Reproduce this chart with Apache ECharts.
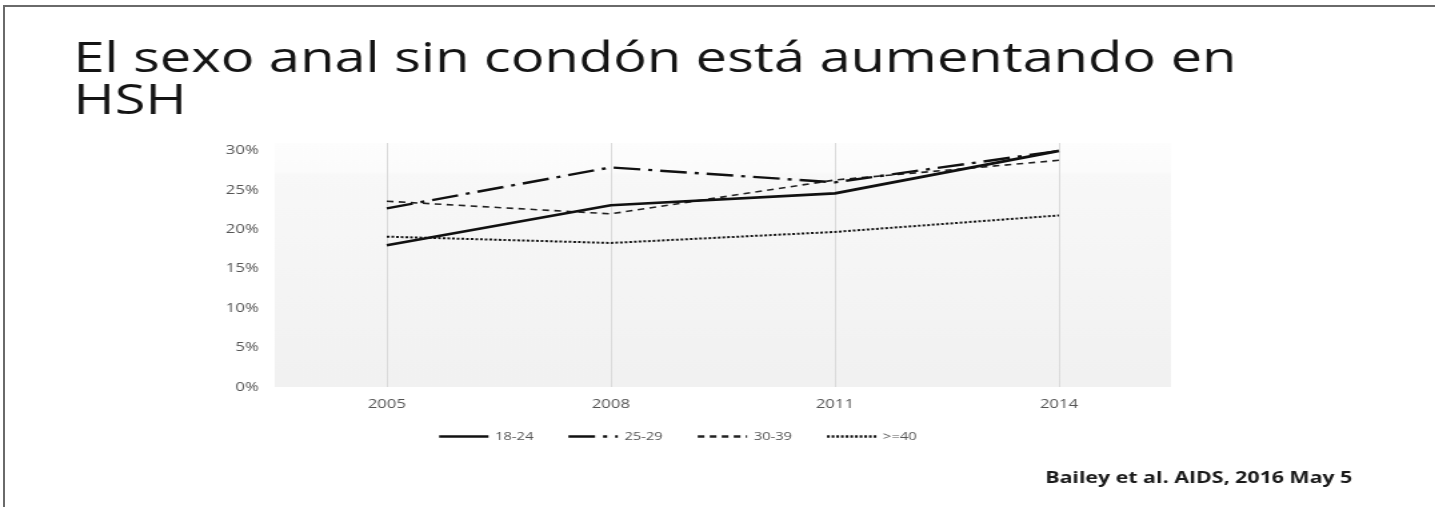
<!DOCTYPE html>
<html>
<head>
<meta charset="utf-8">
<script src="https://cdn.jsdelivr.net/npm/echarts@6/dist/echarts.min.js"></script>
<style>
  html, body { margin: 0; padding: 0; background: #ffffff; overflow: hidden; }
  #frame {
    position: absolute; left: 3px; top: 5px; width: 1432px; height: 502px;
    border-top: 2px solid #6a6a6a; border-left: 2px solid #6a6a6a;
    box-sizing: border-box; pointer-events: none; z-index: 2;
  }
  /* slide is laid out at 4:3-ish width and stretched to the wide frame */
  #chart {
    position: absolute; left: 0; top: 0; width: 1076px; height: 507px;
    transform: scaleX(1.3337); transform-origin: 0 0;
  }
</style>
</head>
<body>
<div id="chart"></div>
<div id="frame"></div>
<script>
// Survey years (x axis)
const years = ['2005', '2008', '2011', '2014'];

// Share reporting condomless anal sex, % by age group
const age18to24 = [18.0, 23.1, 24.6, 30.0];
const age25to29 = [22.7, 27.9, 26.0, 30.0];
const age30to39 = [23.6, 22.0, 26.3, 28.8];
const age40plus = [19.1, 18.3, 19.7, 21.8];

const seriesNames = ['18-24', '25-29', '30-39', '>=40'];

const titleText = 'El sexo anal sin condón está aumentando en\nHSH';
const sourceText = 'Bailey et al. AIDS, 2016 May 5';

const labelColor = '#555555';
const labelFont = 'Open Sans';

const chart = echarts.init(document.getElementById('chart'), null, { width: 1076, height: 507 });

const option = {
  backgroundColor: '#ffffff',
  animation: false,
  title: [
    {
      text: titleText,
      left: 50,
      top: 34,
      textStyle: {
        fontFamily: 'Open Sans',
        fontWeight: 'normal',
        fontSize: 42,
        lineHeight: 42,
        color: '#141414'
      }
    },
    {
      text: sourceText,
      right: 57,
      top: 465,
      textStyle: {
        fontFamily: 'Open Sans',
        fontWeight: 'bold',
        fontSize: 16,
        color: '#1a1a1a'
      }
    }
  ],
  grid: {
    left: 206,
    right: 198,
    top: 143,
    bottom: 120,
    show: true,
    borderWidth: 0,
    backgroundColor: new echarts.graphic.LinearGradient(0, 0, 0, 1, [
      { offset: 0, color: '#fdfdfd' },
      { offset: 0.12, color: '#fbfbfb' },
      { offset: 0.13, color: '#f8f8f8' },
      { offset: 1, color: '#f1f1f1' }
    ])
  },
  legend: {
    data: seriesNames,
    top: 426,
    left: 323,
    itemWidth: 37,
    itemHeight: 10,
    itemGap: 25,
    itemStyle: { opacity: 0, color: 'rgba(0,0,0,0)', borderWidth: 0 },
    lineStyle: { width: 2.5 },
    textStyle: { color: labelColor, fontFamily: labelFont, fontSize: 11 }
  },
  xAxis: {
    type: 'category',
    data: years,
    boundaryGap: true,
    axisLine: { show: false },
    axisTick: { show: false },
    splitLine: { show: false },
    axisLabel: { color: labelColor, fontFamily: labelFont, fontSize: 12.5, margin: 11 }
  },
  yAxis: {
    type: 'value',
    min: 0,
    max: 31,
    interval: 5,
    axisLine: { show: false },
    axisTick: { show: false },
    splitLine: { show: false },
    axisLabel: {
      color: labelColor,
      fontFamily: labelFont,
      fontSize: 12.5,
      margin: 12,
      formatter: v => (v % 5 === 0 ? v + '%' : '')
    }
  },
  series: [
    {
      name: '18-24',
      type: 'line',
      data: age18to24,
      symbol: 'none',
      z: 5,
      itemStyle: { color: '#111111' },
      lineStyle: { color: '#111111', width: 2.6, type: 'solid' },
      markLine: {
        silent: true,
        symbol: 'none',
        z: 1,
        label: { show: false },
        lineStyle: { color: '#dadada', width: 1, type: 'solid' },
        data: years.map(y => ({ xAxis: y }))
      }
    },
    {
      name: '25-29',
      type: 'line',
      data: age25to29,
      symbol: 'none',
      z: 4,
      itemStyle: { color: '#111111' },
      lineStyle: { color: '#111111', width: 2.4, type: [20, 6, 3, 6] }
    },
    {
      name: '30-39',
      type: 'line',
      data: age30to39,
      symbol: 'none',
      z: 3,
      itemStyle: { color: '#222222' },
      lineStyle: { color: '#222222', width: 1.6, type: [5, 4] }
    },
    {
      name: '>=40',
      type: 'line',
      data: age40plus,
      symbol: 'none',
      z: 3,
      itemStyle: { color: '#111111' },
      lineStyle: { color: '#111111', width: 2, type: [2, 1.5] }
    }
  ]
};

chart.setOption(option);
</script>
</body>
</html>
